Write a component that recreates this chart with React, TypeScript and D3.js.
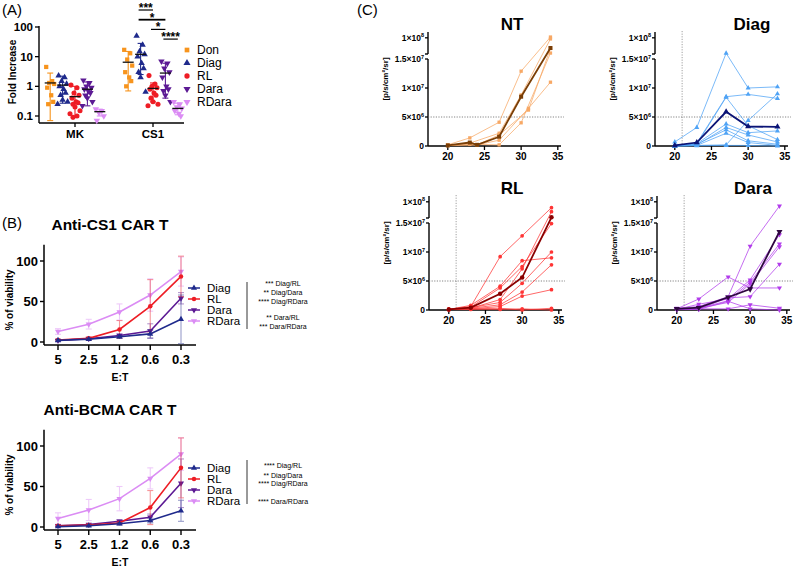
import React from 'react';
import * as d3 from 'd3';

const FONT = "'Liberation Sans', Arial, Helvetica, sans-serif";

// ---------------- Panel A data ----------------
const aCategories = ['MK', 'CS1'];
const aGroups = ['Don', 'Diag', 'RL', 'Dara', 'RDara'];
const aTicks = [0.1, 1, 10, 100];
const aTickLabels = ['0.1', '1', '10', '100'];

const mkDon = [4.5, 1.5, 1.3, 1.2, 0.9, 0.5, 0.3, 0.25];
const mkDiag = [2.3, 2.0, 1.5, 1.2, 1.0, 0.8, 0.6, 0.5, 0.35, 0.3, 0.25];
const mkRL = [1.1, 0.9, 0.6, 0.5, 0.4, 0.3, 0.28, 0.25, 0.2, 0.15, 0.12, 0.1, 0.09];
const mkDara = [1.6, 1.3, 1.0, 0.9, 0.8, 0.7, 0.6, 0.5, 0.4, 0.3, 0.22];
const mkRDara = [0.17, 0.15, 0.13, 0.1, 0.07];
const cs1Don = [17, 13, 8, 5, 3, 2, 1.5, 1.0];
const cs1Diag = [50, 25, 15, 12, 10, 6, 4, 3, 2, 0.65];
const cs1RL = [2.3, 1.2, 1.0, 0.9, 0.8, 0.6, 0.5, 0.4, 0.3, 0.25, 0.22];
const cs1Dara = [7, 6, 4, 3, 2, 1.0, 0.8, 0.7, 0.5, 0.3];
const cs1RDara = [0.3, 0.25, 0.2, 0.18, 0.15, 0.12, 0.1];

const mkMean = [1.3, 1.1, 0.45, 0.8, 0.14];
const mkLow = [0.07, 0.27, 0.09, 0.22, 0.1];
const mkHigh = [2.8, 2.2, 1.0, 1.4, 0.17];
const cs1Mean = [6.5, 12, 0.85, 2.8, 0.18];
const cs1Low = [0.7, 2.5, 0.3, 0.4, 0.11];
const cs1High = [15, 28, 1.3, 6, 0.27];

const aStatPairs = [['Diag', 'RL'], ['Diag', 'Dara'], ['RL', 'Dara'], ['Dara', 'RDara']];
const aStatLabels = ['***', '*', '*', '****'];

// ---------------- Panel B data ----------------
const etLabels = ['5', '2.5', '1.2', '0.6', '0.3'];
const bSeries = ['Diag', 'RL', 'Dara', 'RDara'];
const bTicks = [0, 50, 100];

const cs1DiagV = [2, 3.5, 6.5, 10, 28];
const cs1DiagE = [1, 1.5, 2, 5, 30];
const cs1RLV = [2.5, 4.5, 15.5, 44, 81];
const cs1RLE = [1, 2, 11, 33, 25];
const cs1DaraV = [2, 4, 8, 13.5, 54];
const cs1DaraE = [1, 1.5, 2, 9, 7];
const cs1RDaraV = [13, 22, 37, 58, 87];
const cs1RDaraE = [3.5, 6, 10, 20, 18];

const bcmaDiagV = [0.5, 1.5, 4, 8, 20];
const bcmaDiagE = [0.5, 1, 1.5, 3, 13];
const bcmaRLV = [1.5, 2.5, 5, 24, 73];
const bcmaRLE = [1, 1, 2, 21, 37];
const bcmaDaraV = [1.5, 3, 7, 12, 54];
const bcmaDaraE = [1, 1, 2, 4, 30];
const bcmaRDaraV = [10.5, 21, 35, 60, 90];
const bcmaRDaraE = [7, 13, 15, 13, 20];

const cs1Stats = ['*** Diag/RL', '** Diag/Dara', '**** Diag/RDara', '** Dara/RL', '*** Dara/RDara'];
const bcmaStats = ['**** Diag/RL', '** Diag/Dara', '**** Diag/RDara', '**** Dara/RDara'];

// ---------------- Panel C data ----------------
const cTicksX = [20, 25, 30, 35];
const cTicksY = [0, 5e6, 1e7, 1.5e7];
const cTickBase = ['0', '5×10', '1×10', '1.5×10'];
const cTickExp = ['', '6', '7', '7'];

const ntM1 = [[20, 2e5], [23, 1.4e6], [27, 4.1e6], [30, 1.29e7], [34, 1.04e8]];
const ntM2 = [[20, 1e5], [23, 5e5], [27, 2.2e6], [30, 8.8e6], [34, 9.4e7]];
const ntM3 = [[20, 1e5], [24, 2e5], [27, 1.0e6], [31, 6.5e6], [34, 1.1e7]];
const ntM4 = [[20, 1e5], [23, 3e5], [27, 2e5], [30, 4.0e6], [34, 2.0e7]];
const ntM5 = [[20, 1e5], [24, 2e5], [27, 1.9e6], [31, 6.2e6], [34, 4.4e7]];
const ntMean = [[20, 1e5], [23, 6e5], [24, 2e5], [27, 1.6e6], [30, 8.5e6], [34, 4.65e7]];

const diagM1 = [[20, 7e5], [23, 3.2e6], [27, 1.9e7], [30, 1.0e7], [34, 1.02e7]];
const diagM2 = [[20, 1e5], [23, 5e5], [27, 8.5e6], [30, 8.9e6], [34, 8.2e6]];
const diagM3 = [[20, 1e5], [23, 3e5], [27, 8.4e6], [30, 3.5e6], [34, 1.1e6]];
const diagM4 = [[20, 0], [23, 4e5], [27, 3.8e6], [30, 2.3e6], [34, 2.6e6]];
const diagM5 = [[20, 1e5], [23, 2e5], [27, 3.2e6], [30, 1.9e6], [34, 7e5]];
const diagM6 = [[20, 0], [23, 3e5], [27, 2.8e6], [30, 9e5], [34, 3e5]];
const diagM7 = [[20, 0], [23, 1e5], [27, 2.2e6], [30, 6e5], [34, 1e5]];
const diagM8 = [[20, 0], [23, 1e5], [27, 2e5], [30, 4.4e6], [34, 9.0e6]];
const diagM9 = [[20, 0], [23, 5e4], [27, 1e5], [30, 1e5], [34, 0]];
const diagMean = [[20, 1e5], [23, 6e5], [27, 5.9e6], [30, 3.35e6], [34, 3.3e6]];

const rlM1 = [[20, 1e5], [23, 6e5], [27, 9.2e6], [30, 1.28e7], [34, 6.9e7]];
const rlM2 = [[20, 1e5], [23, 8e5], [27, 4.1e6], [30, 8.5e6], [34, 9.0e6]];
const rlM3 = [[20, 1e5], [23, 5e5], [27, 3.8e6], [30, 7.5e6], [34, 1.49e7]];
const rlM4 = [[20, 1e5], [23, 3e5], [27, 1.8e6], [30, 7.1e6], [34, 4.8e7]];
const rlM5 = [[20, 1e5], [23, 4e5], [27, 1.3e6], [30, 4.6e6], [34, 1.0e7]];
const rlM6 = [[20, 1e5], [23, 3e5], [27, 9e5], [30, 3.1e6], [34, 7.8e6]];
const rlM7 = [[20, 1e5], [23, 2e5], [27, 6e5], [30, 2.4e6], [34, 3.5e6]];
const rlM8 = [[20, 1e5], [23, 2e5], [27, 3e5], [30, 0], [34, 3e5]];
const rlM9 = [[20, 1e5], [23, 1e5], [27, 1e5], [30, 2e5], [34, 0]];
const rlMean = [[20, 1e5], [23, 4e5], [27, 2.8e6], [30, 5.6e6], [34, 1.87e7]];

const daraM1 = [[20, 3e5], [23, 6e5], [27, 2.3e6], [30, 1.1e7], [34, 7.8e7]];
const daraM2 = [[20, 2e5], [23, 1.9e6], [27, 5.7e6], [30, 3.8e6], [34, 3.8e6]];
const daraM3 = [[20, 1e5], [23, 1.0e6], [27, 1.9e6], [30, 5.2e6], [34, 1.3e7]];
const daraM4 = [[20, 1e5], [23, 3e5], [27, 1.6e6], [30, 4.8e6], [34, 1.14e7]];
const daraM5 = [[20, 1e5], [23, 3e5], [27, 1.3e6], [30, 4.5e6], [34, 1.09e7]];
const daraM6 = [[20, 1e5], [23, 2e5], [27, 2.1e6], [30, 2.3e6], [34, 7.9e6]];
const daraM7 = [[20, 1e5], [23, 2e5], [27, 2e5], [30, 9e5], [34, 3e5]];
const daraM8 = [[20, 1e5], [23, 1e5], [27, 1.5e6], [30, 2e5], [34, 0]];
const daraMean = [[20, 2e5], [23, 4e5], [27, 2.2e6], [30, 3.6e6], [34, 1.35e7]];

// ---------------- styles ----------------
const colDon = '#F7941D';
const colDiag = '#1F2A8C';
const colRL = '#EE1D25';
const colDara = '#5C1A94';
const colRDara = '#DB8CF4';
const aColors = [colDon, colDiag, colRL, colDara, colRDara];
const aShapes = ['square', 'up', 'circle', 'down', 'down'];
const bColors = [colDiag, colRL, colDara, colRDara];
const bShapes = ['up', 'circle', 'down', 'down'];
const jitter = [-4, 2, -1, 4, -3, 1, 3, -2, 0, 5, -5, 2, -2];

const shapeOf = (s: string) =>
  s === 'square' ? d3.symbolSquare : s === 'circle' ? d3.symbolCircle : d3.symbolTriangle;

function Mk({ s, x, y, size, fill, opacity }: any) {
  const d = d3.symbol().type(shapeOf(s)).size(size)() as string;
  return (
    <path
      d={d}
      transform={`translate(${x},${y})${s === 'down' ? ' rotate(180)' : ''}`}
      fill={fill}
      opacity={opacity ?? 1}
    />
  );
}

// ---------------- Panel A ----------------
function PanelA() {
  const y = d3.scaleLog().domain([0.1, 100]).range([116, 27]);
  const xc = d3.scalePoint<string>().domain(aCategories).range([75, 153]);
  const xg = d3.scalePoint<string>().domain(aGroups).range([-24.8, 24.8]);
  const gx = (c: string, g: string) => (xc(c) as number) + (xg(g) as number);
  const ax = 39;
  const ay = 123;
  const pts = [
    [mkDon, mkDiag, mkRL, mkDara, mkRDara],
    [cs1Don, cs1Diag, cs1RL, cs1Dara, cs1RDara],
  ];
  const means = [mkMean, cs1Mean];
  const lows = [mkLow, cs1Low];
  const highs = [mkHigh, cs1High];
  const legendYs = [50, 63, 76, 89, 102];
  return (
    <g>
      <text x={2} y={15} fontSize={15}>(A)</text>
      <text
        transform={`translate(16,${72}) rotate(-90)`}
        textAnchor="middle"
        fontSize={10}
        fontWeight="bold"
      >
        Fold Increase
      </text>
      {aTicks.map((t, i) => (
        <g key={'at' + i}>
          <line x1={ax - 4} x2={ax} y1={y(t)} y2={y(t)} stroke="#000" strokeWidth={1.3} />
          <text x={ax - 6} y={y(t) + 4} textAnchor="end" fontSize={11.5} fontWeight="bold">
            {aTickLabels[i]}
          </text>
        </g>
      ))}
      <line x1={ax} x2={ax} y1={y(100) - 1} y2={ay} stroke="#000" strokeWidth={1.4} />
      <line x1={ax} x2={184} y1={ay} y2={ay} stroke="#000" strokeWidth={1.4} />
      {aCategories.map((c) => (
        <g key={'ac' + c}>
          <line x1={xc(c)} x2={xc(c)} y1={ay} y2={ay + 4} stroke="#000" strokeWidth={1.3} />
          <text x={xc(c)} y={ay + 15} textAnchor="middle" fontSize={11.5} fontWeight="bold">
            {c}
          </text>
        </g>
      ))}
      {aCategories.map((c, ci) =>
        aGroups.map((g, gi) => {
          const cx = gx(c, g);
          return (
            <g key={c + g}>
              {pts[ci][gi].map((v, k) => (
                <Mk
                  key={k}
                  s={aShapes[gi]}
                  x={cx + jitter[k % jitter.length]}
                  y={y(v)}
                  size={gi === 2 ? 20 : 18}
                  fill={aColors[gi]}
                />
              ))}
              <line x1={cx} x2={cx} y1={y(lows[ci][gi])} y2={y(highs[ci][gi])} stroke={aColors[gi]} strokeWidth={1.1} />
              <line x1={cx - 3} x2={cx + 3} y1={y(lows[ci][gi])} y2={y(lows[ci][gi])} stroke={aColors[gi]} strokeWidth={1.1} />
              <line x1={cx - 3} x2={cx + 3} y1={y(highs[ci][gi])} y2={y(highs[ci][gi])} stroke={aColors[gi]} strokeWidth={1.1} />
              <line x1={cx - 5.5} x2={cx + 5.5} y1={y(means[ci][gi])} y2={y(means[ci][gi])} stroke="#111" strokeWidth={1.3} />
            </g>
          );
        })
      )}
      {aStatPairs.map((p, i) => {
        const x1 = gx('CS1', p[0]) - 2;
        const x2 = gx('CS1', p[1]);
        const ly = 10 + i * 9.7;
        return (
          <g key={'as' + i}>
            <line x1={x1} x2={x2} y1={ly} y2={ly} stroke="#000" strokeWidth={i === 1 ? 1.8 : 1.2} />
            <text x={(x1 + x2) / 2} y={ly + 2} textAnchor="middle" fontSize={12} fontWeight="bold">
              {aStatLabels[i]}
            </text>
          </g>
        );
      })}
      {aGroups.map((g, i) => (
        <g key={'al' + g}>
          <Mk s={aShapes[i]} x={187} y={legendYs[i]} size={22} fill={aColors[i]} />
          <text x={197} y={legendYs[i] + 4} fontSize={12}>
            {g}
          </text>
        </g>
      ))}
    </g>
  );
}

// ---------------- Panel B ----------------
function PanelB({ y0, label, title, vals, errs, legendYs, stats, statYs, vlTop, vlBottom }: any) {
  const x = d3.scalePoint<string>().domain(etLabels).range([58, 181]);
  const y = d3.scaleLinear().domain([0, 100]).range([y0, y0 - 81]);
  const line = d3
    .line<number>()
    .x((_d, i) => x(etLabels[i]) as number)
    .y((d) => y(d));
  const axY = y0 + 3;
  const order = [3, 2, 1, 0];
  return (
    <g>
      <text x={2} y={y0 - 114} fontSize={15}>{label}</text>
      <text x={110} y={y0 - 112} textAnchor="middle" fontSize={15.5} fontWeight="bold">
        {title}
      </text>
      <text transform={`translate(13,${y0 - 42}) rotate(-90)`} textAnchor="middle" fontSize={10} fontWeight="bold">
        % of viability
      </text>
      <line x1={44} x2={44} y1={y(120)} y2={axY} stroke="#000" strokeWidth={1.5} />
      <line x1={44} x2={196} y1={axY} y2={axY} stroke="#000" strokeWidth={1.5} />
      {bTicks.map((t) => (
        <g key={'bt' + t}>
          <line x1={40} x2={44} y1={y(t)} y2={y(t)} stroke="#000" strokeWidth={1.4} />
          <text x={38} y={y(t) + 4.5} textAnchor="end" fontSize={13} fontWeight="bold">
            {t}
          </text>
        </g>
      ))}
      {etLabels.map((l) => (
        <g key={'bx' + l}>
          <line x1={x(l)} x2={x(l)} y1={axY} y2={axY + 5} stroke="#000" strokeWidth={1.4} />
          <text x={x(l)} y={y0 + 22} textAnchor="middle" fontSize={13} fontWeight="bold">
            {l}
          </text>
        </g>
      ))}
      <text x={120} y={y0 + 39} textAnchor="middle" fontSize={10.5} fontWeight="bold">
        E:T
      </text>
      {order.map((si) => (
        <g key={'bs' + si}>
          {vals[si].map((v: number, i: number) => {
            const cx = x(etLabels[i]) as number;
            const e = errs[si][i];
            return (
              <g key={i} stroke={bColors[si]} strokeWidth={1.1} opacity={0.45}>
                <line x1={cx} x2={cx} y1={y(v - e)} y2={y(v + e)} />
                <line x1={cx - 3} x2={cx + 3} y1={y(v - e)} y2={y(v - e)} />
                <line x1={cx - 3} x2={cx + 3} y1={y(v + e)} y2={y(v + e)} />
              </g>
            );
          })}
          <path d={line(vals[si]) as string} fill="none" stroke={bColors[si]} strokeWidth={1.6} />
          {vals[si].map((v: number, i: number) => (
            <Mk key={i} s={bShapes[si]} x={x(etLabels[i])} y={y(v)} size={16} fill={bColors[si]} />
          ))}
        </g>
      ))}
      {bSeries.map((s, i) => (
        <g key={'bl' + s}>
          <line x1={188} x2={200} y1={legendYs[i]} y2={legendYs[i]} stroke={bColors[i]} strokeWidth={1.5} />
          <Mk s={bShapes[i]} x={194} y={legendYs[i]} size={16} fill={bColors[i]} />
          <text x={207} y={legendYs[i] + 4} fontSize={11.5}>
            {s}
          </text>
        </g>
      ))}
      <line x1={247} x2={247} y1={vlTop} y2={vlBottom} stroke="#000" strokeWidth={0.8} />
      {stats.map((s: string, i: number) => (
        <text key={'st' + i} x={283} y={statYs[i] + 2.5} textAnchor="middle" fontSize={7}>
          {s}
        </text>
      ))}
    </g>
  );
}

// ---------------- Panel C ----------------
function PanelC({ x0, base, title, titleX, light, dark, shape, mice, mean, vline }: any) {
  const x = d3.scaleLinear().domain([17.3, 35.3]).range([x0, x0 + 132]);
  const yLow = d3.scaleLinear().domain([0, 1.5e7]).range([base, base - 87]);
  const yUp = d3.scaleLinear().domain([1.5e7, 1.2e8]).range([base - 92, base - 112]);
  const yv = (v: number) => (v <= 1.5e7 ? yLow(v) : yUp(v));
  const line = d3
    .line<number[]>()
    .x((d) => x(d[0]))
    .y((d) => yv(d[1]));
  return (
    <g>
      <text x={titleX} y={base - 116} textAnchor="middle" fontSize={17} fontWeight="bold">
        {title}
      </text>
      <text transform={`translate(${x0 - 40},${base - 67}) rotate(-90)`} textAnchor="middle" fontSize={8} fontWeight="bold">
        [p/s/cm²/sr]
      </text>
      <line x1={x0} x2={x0} y1={base - 114} y2={base - 92} stroke="#000" strokeWidth={1.4} />
      <line x1={x0 - 3} x2={x0} y1={base - 92} y2={base - 92} stroke="#000" strokeWidth={1.4} />
      <line x1={x0 - 3} x2={x0} y1={yUp(1e8)} y2={yUp(1e8)} stroke="#000" strokeWidth={1.3} />
      <text x={x0 - 4} y={yUp(1e8) + 3} textAnchor="end" fontSize={8.5} fontWeight="bold">
        1×10<tspan fontSize={5.5} dy={-3.5}>8</tspan>
      </text>
      <line x1={x0} x2={x0} y1={base - 87} y2={base} stroke="#000" strokeWidth={1.4} />
      {cTicksY.map((t, i) => (
        <g key={'cy' + i}>
          <line x1={x0 - 3} x2={x0} y1={yLow(t)} y2={yLow(t)} stroke="#000" strokeWidth={1.3} />
          <text x={x0 - 4} y={yLow(t) + 3} textAnchor="end" fontSize={8.5} fontWeight="bold">
            {cTickBase[i]}
            {cTickExp[i] ? (
              <tspan fontSize={5.5} dy={-3.5}>
                {cTickExp[i]}
              </tspan>
            ) : null}
          </text>
        </g>
      ))}
      <line x1={x0} x2={x0 + 133} y1={base} y2={base} stroke="#000" strokeWidth={1.4} />
      {cTicksX.map((t) => (
        <g key={'cx' + t}>
          <line x1={x(t)} x2={x(t)} y1={base} y2={base + 4} stroke="#000" strokeWidth={1.3} />
          <text x={x(t)} y={base + 14} textAnchor="middle" fontSize={10} fontWeight="bold">
            {t}
          </text>
        </g>
      ))}
      <line x1={x0} x2={x0 + 136} y1={yLow(5e6)} y2={yLow(5e6)} stroke="#666" strokeWidth={0.8} strokeDasharray="1.2,1.4" />
      {vline ? (
        <line x1={x(21)} x2={x(21)} y1={base - 115} y2={base} stroke="#888" strokeWidth={0.8} strokeDasharray="1.2,1.4" />
      ) : null}
      {mice.map((m: number[][], i: number) => (
        <g key={'m' + i}>
          <path d={line(m) as string} fill="none" stroke={light} strokeWidth={1} opacity={0.75} />
          {m.map((p, k) => (
            <Mk key={k} s={shape} x={x(p[0])} y={yv(p[1])} size={11} fill={light} />
          ))}
        </g>
      ))}
      <path d={line(mean) as string} fill="none" stroke={dark} strokeWidth={1.8} />
      {mean.map((p: number[], k: number) => (
        <Mk key={'mm' + k} s={shape} x={x(p[0])} y={yv(p[1])} size={16} fill={dark} />
      ))}
    </g>
  );
}

export default function App() {
  return (
    <svg
      width={795}
      height={567}
      viewBox="0 0 795 567"
      style={{ position: 'absolute', left: 0, top: 0, background: '#fff' }}
      fontFamily={FONT}
    >
      <rect x={0} y={0} width={795} height={567} fill="#fff" />
      <PanelA />
      <PanelB
        y0={342}
        label="(B)"
        title="Anti-CS1 CAR T"
        vals={[cs1DiagV, cs1RLV, cs1DaraV, cs1RDaraV]}
        errs={[cs1DiagE, cs1RLE, cs1DaraE, cs1RDaraE]}
        legendYs={[288, 299, 310, 321]}
        stats={cs1Stats}
        statYs={[283, 292, 301, 317, 326]}
        vlTop={282}
        vlBottom={329}
      />
      <PanelB
        y0={527}
        label=""
        title="Anti-BCMA CAR T"
        vals={[bcmaDiagV, bcmaRLV, bcmaDaraV, bcmaRDaraV]}
        errs={[bcmaDiagE, bcmaRLE, bcmaDaraE, bcmaRDaraE]}
        legendYs={[468, 479, 490, 501]}
        stats={bcmaStats}
        statYs={[465, 475, 483.5, 501]}
        vlTop={460}
        vlBottom={504}
      />
      <text x={357} y={15} fontSize={15}>(C)</text>
      <PanelC
        x0={428}
        base={146}
        title="NT"
        titleX={512}
        light="#F7A865"
        dark="#7A3E06"
        shape="square"
        mice={[ntM1, ntM2, ntM3, ntM4, ntM5]}
        mean={ntMean}
        vline={false}
      />
      <PanelC
        x0={655}
        base={146}
        title="Diag"
        titleX={752}
        light="#4FA3F5"
        dark="#0B1476"
        shape="up"
        mice={[diagM1, diagM2, diagM3, diagM4, diagM5, diagM6, diagM7, diagM8, diagM9]}
        mean={diagMean}
        vline={true}
      />
      <PanelC
        x0={429}
        base={310}
        title="RL"
        titleX={512}
        light="#FF3535"
        dark="#8A0000"
        shape="circle"
        mice={[rlM1, rlM2, rlM3, rlM4, rlM5, rlM6, rlM7, rlM8, rlM9]}
        mean={rlMean}
        vline={true}
      />
      <PanelC
        x0={657}
        base={310}
        title="Dara"
        titleX={753}
        light="#B23CEB"
        dark="#2E0840"
        shape="down"
        mice={[daraM1, daraM2, daraM3, daraM4, daraM5, daraM6, daraM7, daraM8]}
        mean={daraMean}
        vline={true}
      />
    </svg>
  );
}
